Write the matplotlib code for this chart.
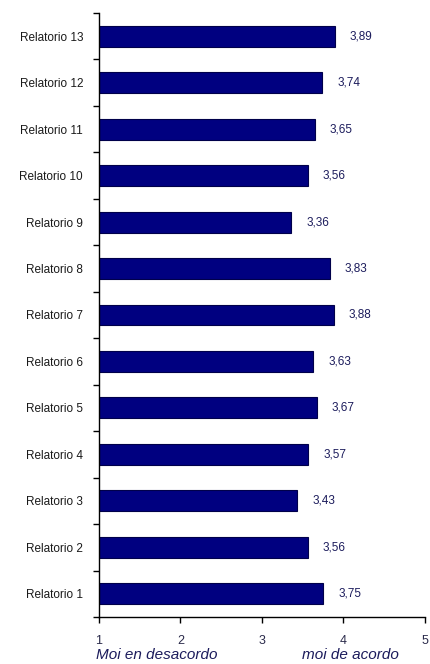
import numpy as np
import matplotlib
matplotlib.use("Agg")
import matplotlib.pyplot as plt

labels = ["Relatorio 1", "Relatorio 2", "Relatorio 3", "Relatorio 4", "Relatorio 5",
          "Relatorio 6", "Relatorio 7", "Relatorio 8", "Relatorio 9", "Relatorio 10",
          "Relatorio 11", "Relatorio 12", "Relatorio 13"]
values = [3.75, 3.56, 3.43, 3.57, 3.67, 3.63, 3.88, 3.83, 3.36, 3.56, 3.65, 3.74, 3.89]
xticks = [1, 2, 3, 4, 5]

plt.rcParams["font.family"] = ["Liberation Sans", "DejaVu Sans"]

fig = plt.figure(figsize=(4.31, 6.64), dpi=100)
ax = fig.add_axes([99 / 431, 1 - 617 / 664, 326 / 431, 604 / 664])

pos = np.arange(1, len(values) + 1)
ax.barh(pos, [v - 1 for v in values], left=1, height=0.45,
        color="#000080", edgecolor="#00004a", linewidth=0.8)

# etiquetas de valor
for p, v in zip(pos, values):
    ax.annotate(f"{v:.2f}".replace(".", ","), (v, p), xytext=(15, 0),
                textcoords="offset pixels",
                ha="left", va="center", fontsize=8.5, color="#1c1c5c")

ax.set_xlim(1, 5)
ax.set_ylim(0.5, len(values) + 0.5)
ax.set_xticks(xticks)
ax.set_xticklabels([str(t) for t in xticks], fontsize=9, color="#2a2a4a")
ax.set_yticks(pos)
ax.set_yticklabels(labels, fontsize=8.5, color="#1a1a1a")
ax.set_yticks(np.arange(0.5, len(values) + 1), minor=True)
ax.tick_params(axis="y", which="major", length=0, pad=11.5)
ax.tick_params(axis="y", which="minor", length=4, width=1, direction="out")
ax.tick_params(axis="x", length=4, width=1, direction="out", pad=9)

for s in ["top", "right"]:
    ax.spines[s].set_visible(False)
ax.spines["left"].set_linewidth(1)
ax.spines["bottom"].set_linewidth(1)

fig.text(96 / 431, 1 - 655 / 664, "Moi en desacordo", fontsize=11, style="italic",
         color="#1c1c5c", va="center", ha="left")
fig.text(302 / 431, 1 - 655 / 664, "moi de acordo", fontsize=11, style="italic",
         color="#1c1c5c", va="center", ha="left")

fig.savefig("out.png", dpi=100)
